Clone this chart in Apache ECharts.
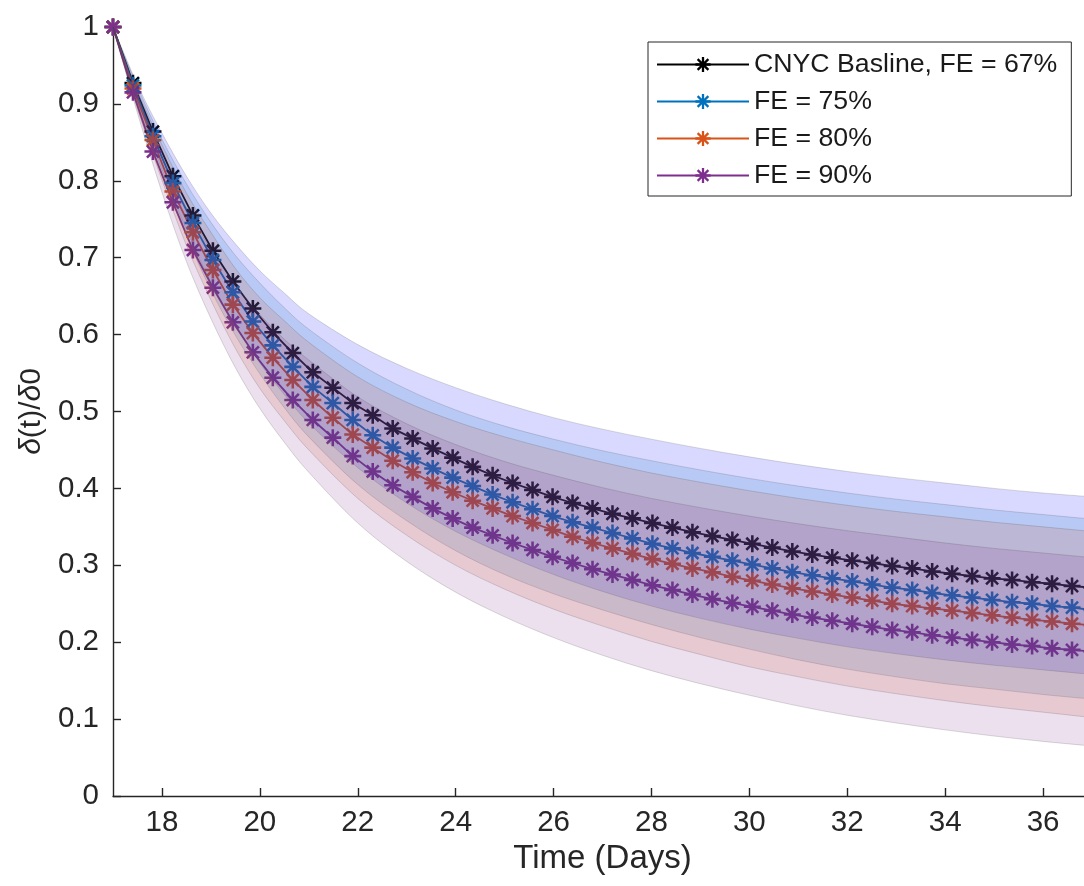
<!DOCTYPE html>
<html><head><meta charset="utf-8">
<script src="https://cdn.jsdelivr.net/npm/echarts@6/dist/echarts.min.js"></script>
<style>html,body{margin:0;padding:0;background:#fff}#c{width:1084px;height:886px}</style>
</head><body><div id="c"></div><script>
// ---- data ----
const times = [17.000,17.408,17.816,18.224,18.633,19.041,19.449,19.857,20.265,20.673,21.082,21.490,21.898,22.306,22.714,23.122,23.531,23.939,24.347,24.755,25.163,25.571,25.980,26.388,26.796,27.204,27.612,28.020,28.429,28.837,29.245,29.653,30.061,30.469,30.878,31.286,31.694,32.102,32.510,32.918,33.327,33.735,34.143,34.551,34.959,35.367,35.776,36.184,36.592,37.000];
const fe67 = [1.0,0.927,0.864,0.806,0.755,0.709,0.669,0.634,0.603,0.576,0.551,0.531,0.511,0.495,0.478,0.465,0.452,0.440,0.428,0.417,0.407,0.398,0.389,0.381,0.374,0.367,0.361,0.355,0.349,0.343,0.338,0.333,0.328,0.323,0.318,0.314,0.310,0.306,0.303,0.299,0.296,0.292,0.289,0.286,0.283,0.281,0.278,0.276,0.273,0.271];
const fe75 = [1.0,0.924,0.858,0.797,0.745,0.697,0.655,0.617,0.586,0.558,0.532,0.511,0.489,0.469,0.453,0.439,0.426,0.414,0.403,0.392,0.382,0.373,0.364,0.356,0.349,0.342,0.335,0.328,0.322,0.316,0.311,0.306,0.301,0.296,0.291,0.287,0.283,0.279,0.275,0.271,0.268,0.264,0.261,0.258,0.255,0.252,0.250,0.247,0.245,0.242];
const fe80 = [1.0,0.920,0.853,0.786,0.733,0.684,0.639,0.602,0.570,0.541,0.515,0.492,0.470,0.453,0.436,0.421,0.407,0.395,0.384,0.374,0.364,0.355,0.346,0.337,0.329,0.322,0.315,0.308,0.302,0.296,0.291,0.285,0.280,0.275,0.270,0.266,0.262,0.258,0.254,0.250,0.247,0.244,0.241,0.238,0.235,0.232,0.229,0.227,0.224,0.222];
const fe90 = [1.0,0.915,0.838,0.772,0.710,0.661,0.616,0.577,0.544,0.515,0.489,0.466,0.442,0.422,0.404,0.389,0.374,0.361,0.349,0.339,0.329,0.320,0.311,0.303,0.295,0.288,0.281,0.274,0.268,0.262,0.256,0.251,0.246,0.241,0.236,0.232,0.228,0.224,0.220,0.216,0.213,0.209,0.206,0.203,0.200,0.197,0.195,0.192,0.190,0.188];

const bandT = [17,17.5,18,18.5,19,19.5,20,20.5,21,22,23,24,25,26,27,28,29,30,31,32,33,34,35,36,37];
const up67 = [1.0,0.925,0.862,0.806,0.758,0.718,0.683,0.654,0.627,0.587,0.556,0.531,0.510,0.492,0.477,0.464,0.452,0.441,0.431,0.422,0.414,0.407,0.400,0.394,0.389];
const lo67 = [1.0,0.901,0.814,0.736,0.668,0.612,0.563,0.522,0.485,0.427,0.381,0.344,0.314,0.288,0.266,0.247,0.231,0.217,0.205,0.194,0.185,0.177,0.170,0.164,0.158];
const up75 = [1.0,0.922,0.854,0.796,0.746,0.703,0.667,0.635,0.607,0.563,0.529,0.502,0.481,0.464,0.449,0.436,0.424,0.413,0.403,0.394,0.386,0.379,0.372,0.366,0.360];
const lo75 = [1.0,0.898,0.808,0.728,0.658,0.599,0.549,0.505,0.467,0.405,0.358,0.319,0.288,0.263,0.242,0.223,0.206,0.191,0.177,0.165,0.155,0.146,0.139,0.132,0.126];
const up80 = [1.0,0.917,0.847,0.784,0.733,0.686,0.648,0.618,0.590,0.545,0.512,0.487,0.467,0.450,0.434,0.420,0.408,0.397,0.387,0.378,0.370,0.363,0.356,0.350,0.344];
const lo80 = [1.0,0.893,0.801,0.716,0.645,0.582,0.530,0.488,0.450,0.387,0.339,0.300,0.269,0.243,0.221,0.201,0.184,0.168,0.155,0.143,0.133,0.124,0.116,0.109,0.102];
const up90 = [1.0,0.912,0.833,0.765,0.711,0.665,0.626,0.594,0.567,0.519,0.484,0.457,0.435,0.417,0.401,0.387,0.375,0.364,0.354,0.345,0.337,0.329,0.322,0.316,0.310];
const lo90 = [1.0,0.888,0.785,0.695,0.621,0.557,0.504,0.460,0.421,0.355,0.305,0.265,0.233,0.206,0.183,0.163,0.146,0.131,0.117,0.105,0.095,0.086,0.078,0.071,0.065];

const xTicks = [18,20,22,24,26,28,30,32,34,36];
const names = ['CNYC Basline, FE = 67%','FE = 75%','FE = 80%','FE = 90%'];
// ---- styling ----
const lineColors = ['#000000','#0072BD','#D95319','#7E2F8E'];
const bandColors = ['rgba(0,0,255,0.15)','rgba(0,114,189,0.15)','rgba(217,83,25,0.15)','rgba(126,47,142,0.15)'];
const means = [fe67, fe75, fe80, fe90];
const uppers = [up67, up75, up80, up90];
const lowers = [lo67, lo75, lo80, lo90];
const STAR = 'path://M0 8.5L20 8.5L20 11.5L0 11.5Z M8.5 0L11.5 0L11.5 20L8.5 20Z M3.99 1.87L18.13 16.01L16.01 18.13L1.87 3.99Z M18.13 3.99L3.99 18.13L1.87 16.01L16.01 1.87Z';
const FONT = 'Liberation Sans, Arial, sans-serif';
const AX = '#262626';

// Catmull-Rom spline through pixel points -> cubic bezier path commands
function splineCmds(pts, first) {
  let d = first ? 'M' + pts[0][0] + ' ' + pts[0][1] : 'L' + pts[0][0] + ' ' + pts[0][1];
  for (let i = 0; i < pts.length - 1; i++) {
    const p0 = pts[Math.max(i - 1, 0)], p1 = pts[i], p2 = pts[i + 1], p3 = pts[Math.min(i + 2, pts.length - 1)];
    const c1 = [p1[0] + (p2[0] - p0[0]) / 6, p1[1] + (p2[1] - p0[1]) / 6];
    const c2 = [p2[0] - (p3[0] - p1[0]) / 6, p2[1] - (p3[1] - p1[1]) / 6];
    d += 'C' + c1[0] + ' ' + c1[1] + ' ' + c2[0] + ' ' + c2[1] + ' ' + p2[0] + ' ' + p2[1];
  }
  return d;
}

const series = [];
means.forEach((m, k) => {
  series.push({
    type: 'line', name: names[k],
    data: times.map((t, i) => [t, m[i]]),
    symbol: STAR, symbolSize: 17,
    itemStyle: { color: lineColors[k] },
    lineStyle: { color: lineColors[k], width: 1.8 },
    z: 2, animation: false
  });
});
uppers.forEach((u, k) => {
  const lo = lowers[k];
  series.push({
    type: 'custom', name: 'band_' + k, silent: true, animation: false, z: 3,
    data: bandT.map((t, i) => [t, lo[i], u[i]]),
    renderItem: function (params, api) {
      if (params.dataIndex !== 0) return null;
      const top = [], bot = [];
      for (let i = 0; i < bandT.length; i++) {
        top.push(api.coord([bandT[i], u[i]]));
        bot.push(api.coord([bandT[i], lo[i]]));
      }
      const d = splineCmds(top, true) + splineCmds(bot.reverse(), false) + 'Z';
      return {
        type: 'path',
        shape: { pathData: d },
        style: { fill: bandColors[k], stroke: 'rgba(70,70,70,0.2)', lineWidth: 1 }
      };
    }
  });
});

const chart = echarts.init(document.getElementById('c'), null, { renderer: 'canvas' });
chart.setOption({
  backgroundColor: '#ffffff',
  animation: false,
  grid: { left: 113, right: -8, top: 27, bottom: 90, containLabel: false, outerBoundsMode: 'none' },
  legend: {
    data: names, orient: 'vertical', left: 648, top: 42,
    padding: [9, 14, 7, 8], itemWidth: 92, itemHeight: 19, itemGap: 10,
    borderColor: AX, borderWidth: 1, backgroundColor: '#ffffff',
    textStyle: { fontFamily: FONT, fontSize: 26.7, color: '#1a1a1a' }, z: 10
  },
  xAxis: {
    type: 'value', min: 17, max: 37,
    axisLine: { show: true, lineStyle: { color: AX, width: 1.4 } },
    axisTick: { show: true, inside: true, length: 8, customValues: xTicks, lineStyle: { color: AX, width: 1.4 } },
    axisLabel: { customValues: xTicks, fontFamily: FONT, fontSize: 29.5, color: AX, margin: 12 },
    splitLine: { show: false },
    name: 'Time (Days)', nameLocation: 'middle', nameGap: 46,
    nameTextStyle: { fontFamily: FONT, fontSize: 33, color: AX }
  },
  yAxis: {
    type: 'value', min: 0, max: 1, interval: 0.1,
    axisLine: { show: true, lineStyle: { color: AX, width: 1.4 } },
    axisTick: { show: true, inside: true, length: 8, lineStyle: { color: AX, width: 1.4 } },
    axisLabel: { fontFamily: FONT, fontSize: 29.5, color: AX, margin: 14 },
    splitLine: { show: false },
    name: '{i|δ}(t)/{i|δ}0', nameLocation: 'middle', nameGap: 66, nameRotate: 90,
    nameTextStyle: { fontFamily: FONT, fontSize: 30, color: AX,
      rich: { i: { fontFamily: FONT, fontSize: 30, fontStyle: 'italic', color: AX } } }
  },
  series: series
});
</script></body></html>
